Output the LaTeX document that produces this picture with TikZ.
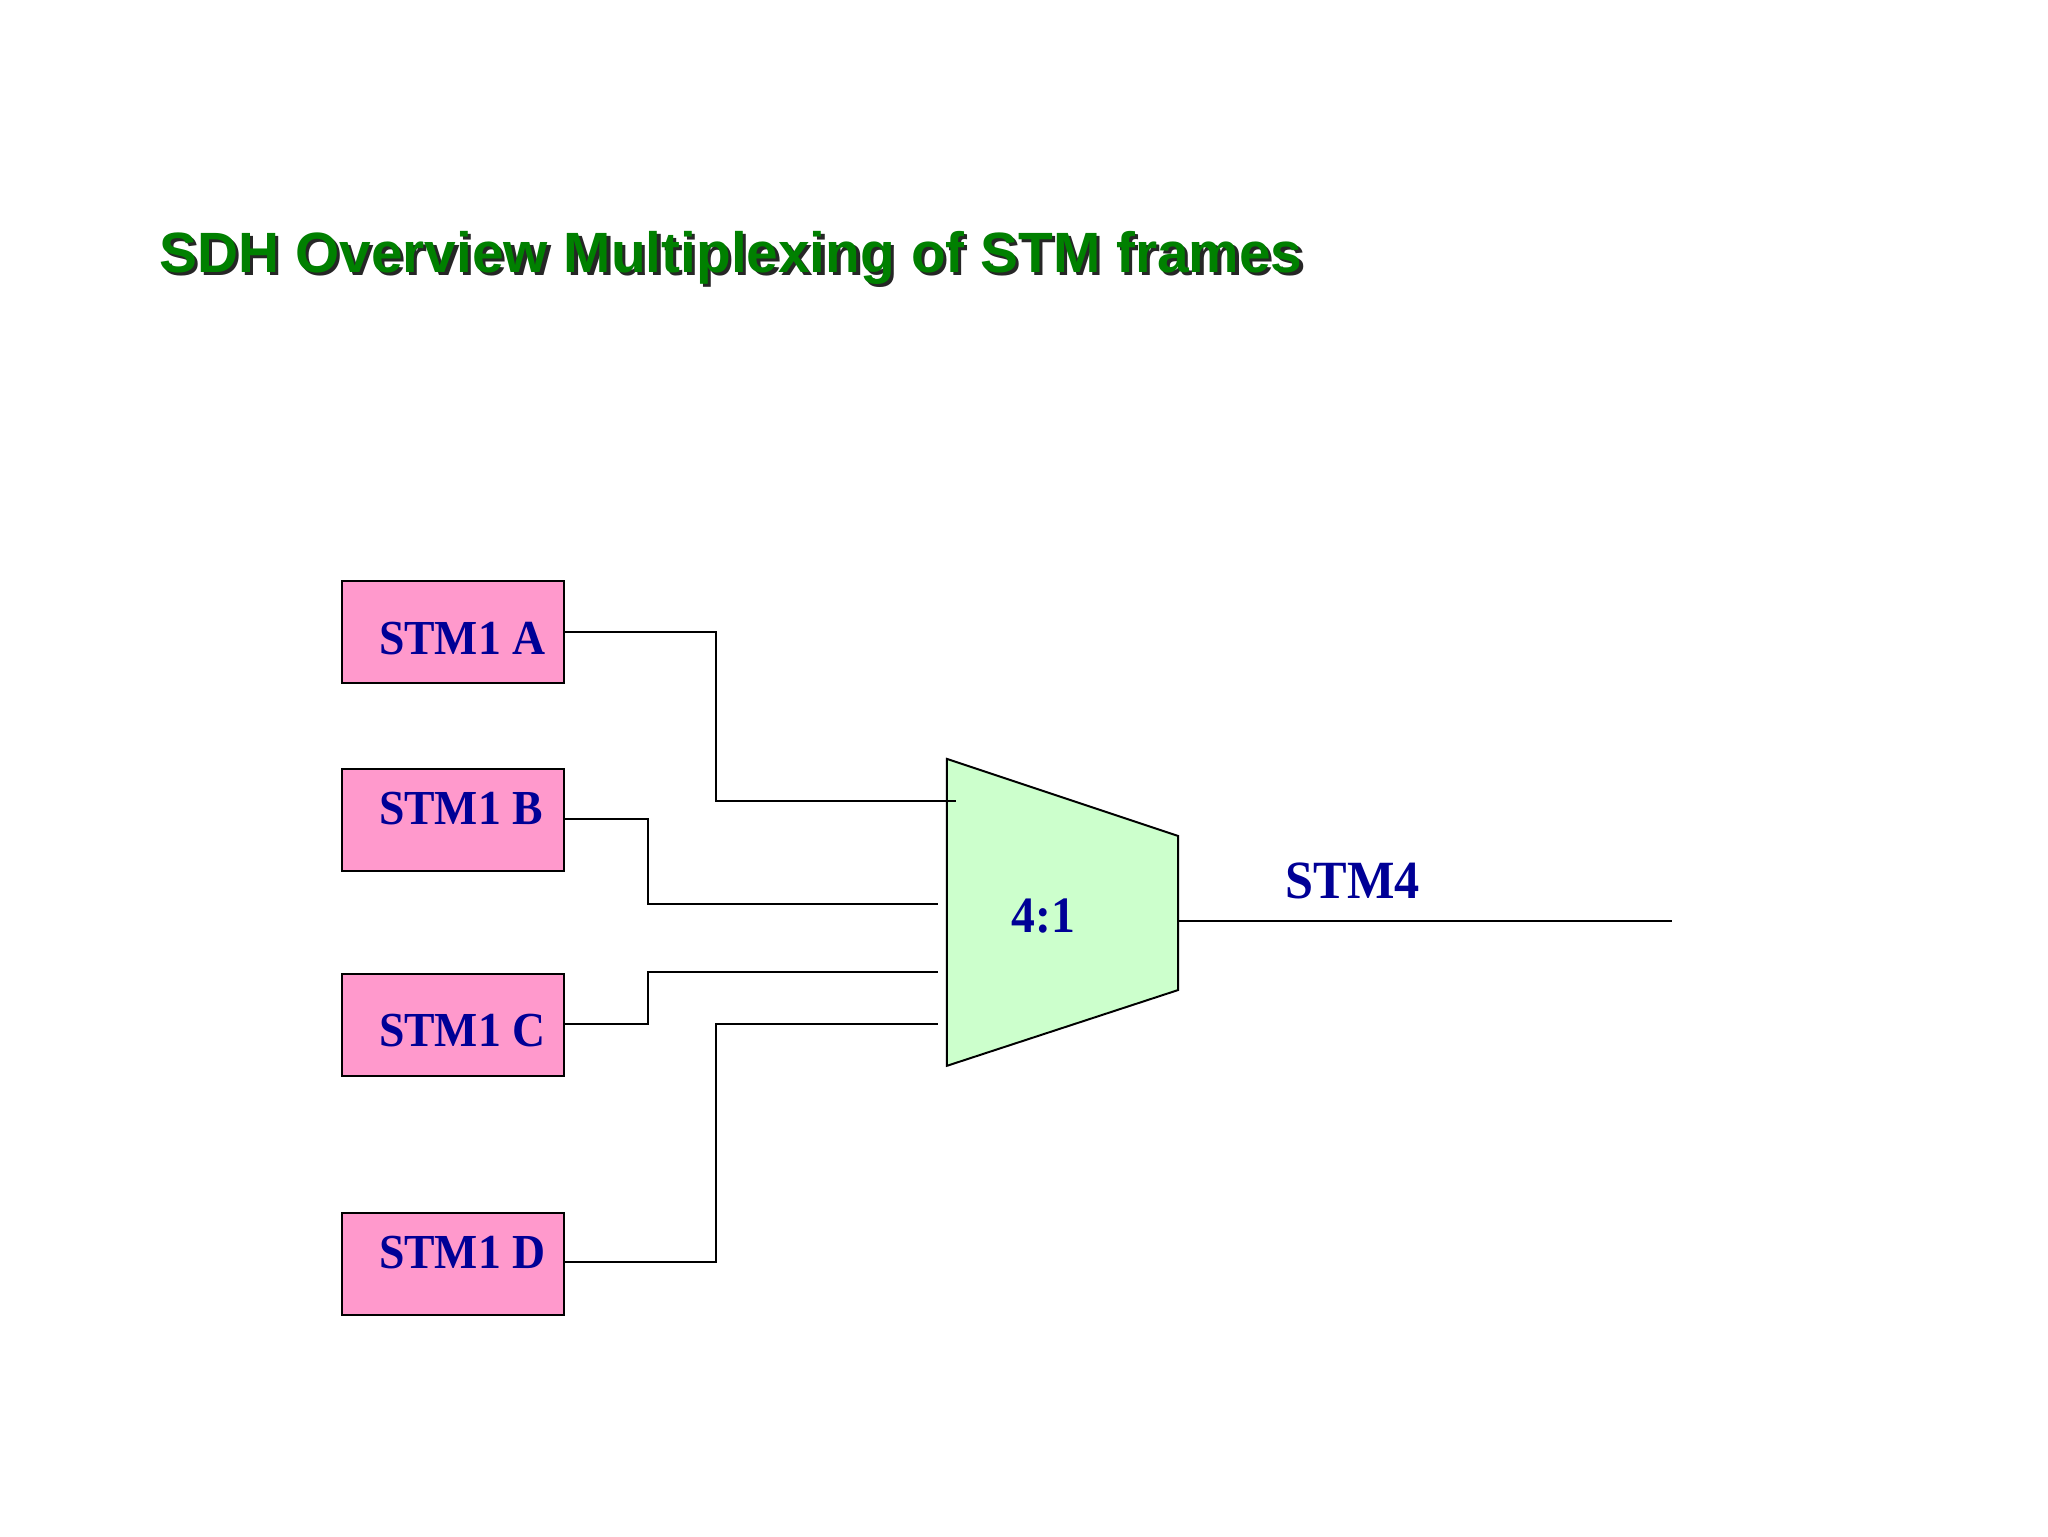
\documentclass[tikz,border=0pt]{standalone}
\usepackage{fontspec}
\usepackage{graphicx}
\setmainfont{Liberation Serif}
\newfontfamily\titlefont{Liberation Sans}
\definecolor{titlegreen}{RGB}{0,128,0}
\definecolor{labelblue}{RGB}{0,0,150}
\definecolor{boxpink}{RGB}{255,153,204}
\definecolor{muxgreen}{RGB}{204,255,204}
\newcommand{\tallish}[1]{\scalebox{1}[1.07]{#1}}
\tikzset{
  stmbox/.style={draw=black, fill=boxpink, line width=1.5pt, minimum width=170pt, minimum height=78pt, inner sep=0pt, anchor=north west},
  stmlabel/.style={text=labelblue, font=\fontsize{35}{40}\selectfont\bfseries, inner sep=0pt, anchor=base west},
  wire/.style={draw=black, line width=1.5pt},
  titletext/.style={font=\titlefont\fontsize{43.5}{50}\selectfont\bfseries, inner sep=0pt, anchor=base west}
}
\begin{document}
\begin{tikzpicture}[x=1pt,y=-1pt]
\useasboundingbox (0,0) rectangle (1568,1176);
\fill[white] (0,0) rectangle (1568,1176);

% title with shadow
\node[titletext, text=black!85] (titleshadow) at (124.5,211) {SDH Overview Multiplexing of STM frames};
\node[titletext, text=titlegreen] (title) at (122,208.5) {SDH Overview Multiplexing of STM frames};

% input boxes
\node[stmbox] (a) at (261,444) {};
\node[stmbox] (b) at (261,588) {};
\node[stmbox] (c) at (261,745) {};
\node[stmbox] (d) at (261,928) {};
\node[stmlabel] (la) at (290,501) {\tallish{STM1 A}};
\node[stmlabel] (lb) at (290,631.5) {\tallish{STM1 B}};
\node[stmlabel] (lc) at (290,801.5) {\tallish{STM1 C}};
\node[stmlabel] (ld) at (290,971) {\tallish{STM1 D}};

% multiplexer
\coordinate (m1) at (725,581);
\coordinate (m2) at (902,640);
\coordinate (m3) at (902,758);
\coordinate (m4) at (725,816);
\draw[fill=muxgreen, line width=1.5pt, line join=miter] (m1) -- (m2) -- (m3) -- (m4) -- cycle;
\node[text=labelblue, font=\fontsize{36.5}{42}\selectfont\bfseries, inner sep=0pt, anchor=base west] (ratio) at (774.5,714) {\tallish{4:1}};

% wire end points
\coordinate (inA) at (732,613.5);
\coordinate (inB) at (718,692);
\coordinate (inC) at (718,744.5);
\coordinate (inD) at (718,784);
\coordinate (out) at (902,705);
\coordinate (outEnd) at (1280,705);

% wires
\draw[wire] (a.east |- 0,483.5) -| (548,613.5) -- (inA);
\draw[wire] (b.east |- 0,627) -| (496,692) -- (inB);
\draw[wire] (c.east |- 0,784) -| (496,744.5) -- (inC);
\draw[wire] (d.east |- 0,966.5) -| (548,784) -- (inD);
\draw[wire] (out) -- (outEnd);

\node[text=labelblue, font=\fontsize{38.5}{44}\selectfont\bfseries, inner sep=0pt, anchor=base west] (stm4) at (984,688) {\tallish{STM4}};
\end{tikzpicture}
\end{document}
